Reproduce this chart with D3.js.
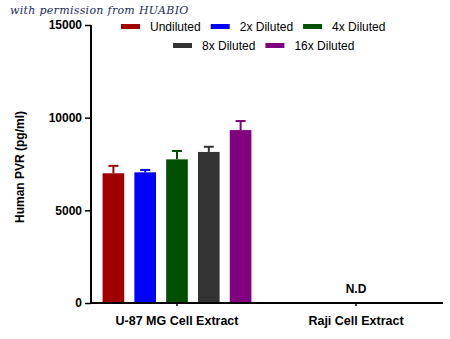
<!DOCTYPE html>
<html><head><meta charset="utf-8">
<script src="https://cdn.jsdelivr.net/npm/d3@7"></script>
<style>body{margin:0;background:#fff}svg{display:block}</style>
</head><body>
<script>
const groups = ["U-87 MG Cell Extract", "Raji Cell Extract"];
const seriesNames = ["Undiluted", "2x Diluted", "4x Diluted", "8x Diluted", "16x Diluted"];
const seriesColors = ["#a00000", "#0000ff", "#005000", "#333333", "#800080"];
const u87Values = [7000, 7050, 7750, 8150, 9330];
const u87Errors = [400, 130, 450, 280, 490];
const rajiLabel = "N.D";
const yTicks = [0, 5000, 10000, 15000];

const W = 450, H = 339;
const svg = d3.select("body").append("svg").attr("width", W).attr("height", H);

const y = d3.scaleLinear().domain([0, 15000]).range([303, 25]);
const x0 = d3.scaleBand().domain(groups).range([87.5, 445.5]);
const x1 = d3.scaleBand().domain(seriesNames).range([-79.5, 79.5]).paddingInner(0.32).paddingOuter(0.16);
const axisX = 91;

// bars
const g = svg.append("g");
const cx = x0("U-87 MG Cell Extract") + x0.bandwidth() / 2;
seriesNames.forEach((s, i) => {
  const bx = cx + x1(s);
  const bw = x1.bandwidth();
  g.append("rect").attr("x", bx).attr("y", y(u87Values[i])).attr("width", bw)
    .attr("height", y(0) - y(u87Values[i])).attr("fill", seriesColors[i]);
  const mx = bx + bw / 2;
  const top = y(u87Values[i] + u87Errors[i]);
  g.append("line").attr("x1", mx).attr("x2", mx).attr("y1", y(u87Values[i])).attr("y2", top)
    .attr("stroke", seriesColors[i]).attr("stroke-width", 2);
  g.append("line").attr("x1", mx - 5).attr("x2", mx + 5).attr("y1", top).attr("y2", top)
    .attr("stroke", seriesColors[i]).attr("stroke-width", 2);
});

// N.D label
svg.append("text").attr("x", x0("Raji Cell Extract") + x0.bandwidth() / 2).attr("y", 293)
  .attr("text-anchor", "middle").attr("font-family", "Liberation Sans, Arial, sans-serif")
  .attr("font-weight", "bold").attr("font-size", 12).attr("fill", "#000").text(rajiLabel);

// y axis
const yAxis = svg.append("g").attr("transform", `translate(${axisX},0)`)
  .call(d3.axisLeft(y).tickValues(yTicks).tickFormat(d3.format("d")).tickSize(6).tickSizeOuter(0).tickPadding(3));
yAxis.select(".domain").attr("stroke-width", 2).attr("d", `M0,${y(15000)}V${y(0)+1}`);
yAxis.selectAll(".tick line").attr("stroke-width", 1.5);
yAxis.selectAll("text").attr("font-family", "Liberation Sans, Arial, sans-serif")
  .attr("font-weight", "bold").attr("font-size", 12).attr("fill", "#000");

// x axis
const xAxis = svg.append("g").attr("transform", `translate(0,${y(0)})`)
  .call(d3.axisBottom(x0).tickSize(3).tickSizeOuter(0).tickPadding(10));
xAxis.select(".domain").attr("stroke-width", 2).attr("d", `M${axisX-1},0H443`);
xAxis.selectAll(".tick line").attr("stroke-width", 1.5);
xAxis.selectAll("text").attr("font-family", "Liberation Sans, Arial, sans-serif")
  .attr("font-weight", "bold").attr("font-size", 12.5).attr("fill", "#000");

// y title
svg.append("text").attr("transform", "translate(24,167) rotate(-90)")
  .attr("text-anchor", "middle").attr("font-family", "Liberation Sans, Arial, sans-serif")
  .attr("font-weight", "bold").attr("font-size", 12).attr("fill", "#000").text("Human PVR (pg/ml)");

// legend
const legendRows = [[0, 1, 2], [3, 4]];
const rowStart = [121, 173];
const rowY = [26.5, 45.5];
const fmtFont = "Liberation Sans, Arial, sans-serif";
legendRows.forEach((row, r) => {
  let xp = rowStart[r];
  row.forEach(i => {
    svg.append("rect").attr("x", xp).attr("y", rowY[r] - 2.5).attr("width", 19).attr("height", 5)
      .attr("fill", seriesColors[i]);
    const t = svg.append("text").attr("x", xp + 29).attr("y", rowY[r] + 4.3)
      .attr("font-family", fmtFont).attr("font-size", 12).attr("fill", "#000").text(seriesNames[i]);
    const tw = t.node().getComputedTextLength();
    xp = xp + 29 + tw + 10;
  });
});

// watermark
svg.append("text").attr("x", 10).attr("y", 14)
  .attr("font-family", "DejaVu Serif, serif").attr("font-style", "italic")
  .attr("font-size", 11).attr("letter-spacing", 0.3)
  .attr("fill", "#1b2b5e").text("with permission from HUABIO");
</script>
</body></html>
